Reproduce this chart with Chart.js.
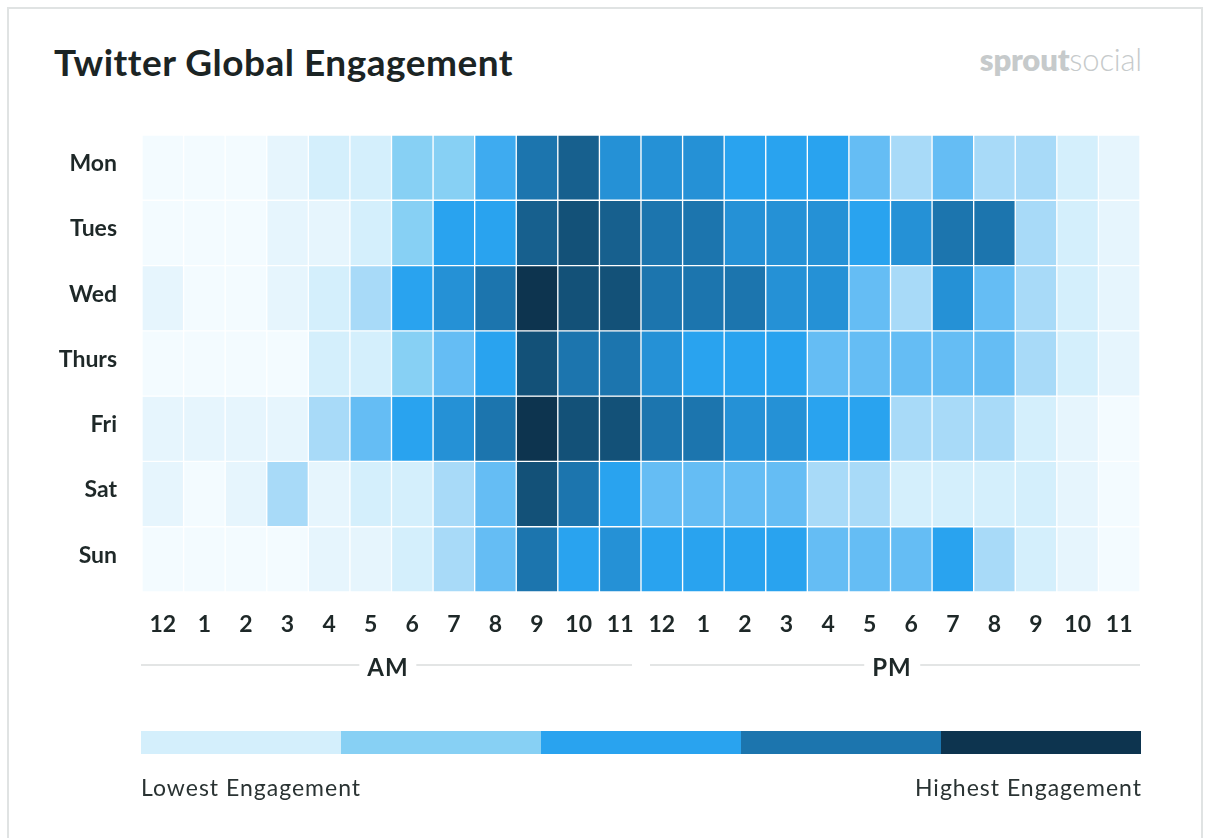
<!DOCTYPE html>
<html>
<head>
<meta charset="utf-8">
<script src="https://cdn.jsdelivr.net/npm/chart.js@4/dist/chart.umd.min.js"></script>
<style>
  html, body { margin: 0; padding: 0; background: #ffffff; }
  body { width: 1216px; height: 838px; position: relative; overflow: hidden; font-family: Lato, "Open Sans", sans-serif; }
  .abs { position: absolute; }
  #card { left: 7px; top: 7px; width: 1196px; height: 900px; border: 2px solid #e0e3e3; box-sizing: border-box; }
  #title { left: 54px; top: 43px; font-size: 37px; line-height: 37px; font-weight: 700; color: #1b2424; white-space: nowrap; letter-spacing: 0.5px; }
  #logo { right: 74px; top: 44px; font-size: 31px; line-height: 31px; color: #c6cacb; white-space: nowrap; letter-spacing: -0.2px; }
  #logo b { font-weight: 800; }
  #logo span { font-weight: 300; }
  #wrap { left: 0; top: 0; width: 1216px; height: 838px; }
  .rule { height: 0; border-top: 2px solid #e3e5e5; top: 664px; }
  .half { font-size: 24px; line-height: 24px; font-weight: 700; color: #1e2828; top: 655px; background: #fff; padding: 0 8px; transform: translateX(-50%); letter-spacing: 1px; }
  .seg { top: 731px; height: 23px; width: 200px; }
  .cap { top: 776px; font-size: 23px; line-height: 23px; color: #2a3333; white-space: nowrap; letter-spacing: 1px; }
</style>
</head>
<body>
<div id="card" class="abs"></div>
<div id="title" class="abs">Twitter Global Engagement</div>
<div id="logo" class="abs"><b>sprout</b><span>social</span></div>
<div id="wrap" class="abs"><canvas id="c" width="1216" height="838"></canvas></div>

<div class="abs rule" style="left:141px;width:491px;"></div>
<div class="abs rule" style="left:650px;width:490px;"></div>
<div class="abs half" style="left:388px;">AM</div>
<div class="abs half" style="left:892px;">PM</div>

<div id="legend"></div>
<div class="abs cap" style="left:141px;">Lowest Engagement</div>
<div class="abs cap" style="right:74px;">Highest Engagement</div>

<script>
// ---- data ----
const days = ["Mon", "Tues", "Wed", "Thurs", "Fri", "Sat", "Sun"];
const hours = ["12","1","2","3","4","5","6","7","8","9","10","11","12","1","2","3","4","5","6","7","8","9","10","11"];
// engagement level per hour (0 = lowest, 12 = highest)
const mon   = [0,0,0,1,2,2,4,4,6,9,10,8, 8,8,7,7,7,5,3,5,3,3,2,1];
const tues  = [0,0,0,1,1,2,4,7,7,10,11,10, 9,9,8,8,8,7,8,9,9,3,2,1];
const wed   = [1,0,0,1,2,3,7,8,9,12,11,11, 9,9,9,8,8,5,3,8,5,3,2,1];
const thurs = [0,0,0,0,2,2,4,5,7,11,9,9, 8,7,7,7,5,5,5,5,5,3,2,1];
const fri   = [1,1,1,1,3,5,7,8,9,12,11,11, 9,9,8,8,7,7,3,3,3,2,1,0];
const sat   = [1,0,1,3,1,2,2,3,5,11,9,7, 5,5,5,5,3,3,2,2,2,2,1,0];
const sun   = [0,0,0,0,1,1,2,3,5,9,7,8, 7,7,7,7,5,5,5,7,3,2,1,0];
const levels = [mon, tues, wed, thurs, fri, sat, sun];
const legendSteps = [2, 4, 7, 9, 12];

// ---- styles ----
const levelColors = ["#f3fbff","#e6f5fd","#d4effc","#a8daf8","#87d0f4","#65bdf4","#3eabf0","#29a3ef","#2591d6","#1c75ae","#17608e","#135178","#0d344f"];
const textDark = "#1e2828";

// legend bar
const legend = document.getElementById('legend');
legendSteps.forEach((lv, i) => {
  const d = document.createElement('div');
  d.className = 'abs seg';
  d.style.left = (141 + i * 200) + 'px';
  d.style.background = levelColors[lv];
  legend.appendChild(d);
});

const datasets = levels.map((row, d) => ({
  label: days[d],
  data: row.map(() => [d, d + 1]),
  backgroundColor: row.map(v => levelColors[v]),
  borderColor: "#ffffff",
  borderWidth: 1,
  borderSkipped: false,
  grouped: false,
  barPercentage: 1,
  categoryPercentage: 1
}));

new Chart(document.getElementById('c'), {
  type: 'bar',
  data: { labels: hours, datasets },
  options: {
    responsive: false,
    animation: false,
    events: [],
    layout: { padding: { left: 0, top: 135, right: 76, bottom: 196 } },
    plugins: { legend: { display: false }, tooltip: { enabled: false } },
    scales: {
      x: {
        type: 'category',
        grid: { display: false, drawTicks: false },
        border: { display: false },
        ticks: { autoSkip: false, maxRotation: 0, padding: 19, color: textDark,
                 font: { family: 'Lato', size: 23, weight: 'bold' } },
        afterFit: s => { s.height = 50; }
      },
      y: {
        type: 'linear', min: 0, max: 7, reverse: true,
        grid: { display: false, drawTicks: false },
        border: { display: false },
        afterBuildTicks: s => { s.ticks = days.map((_, i) => ({ value: i + 0.5 })); },
        ticks: { padding: 25, labelOffset: -4, color: textDark, font: { family: 'Lato', size: 23, weight: 'bold' },
                 callback: v => days[Math.floor(v)] },
        afterFit: s => { s.width = 142; }
      }
    }
  }
});
</script>
</body>
</html>
